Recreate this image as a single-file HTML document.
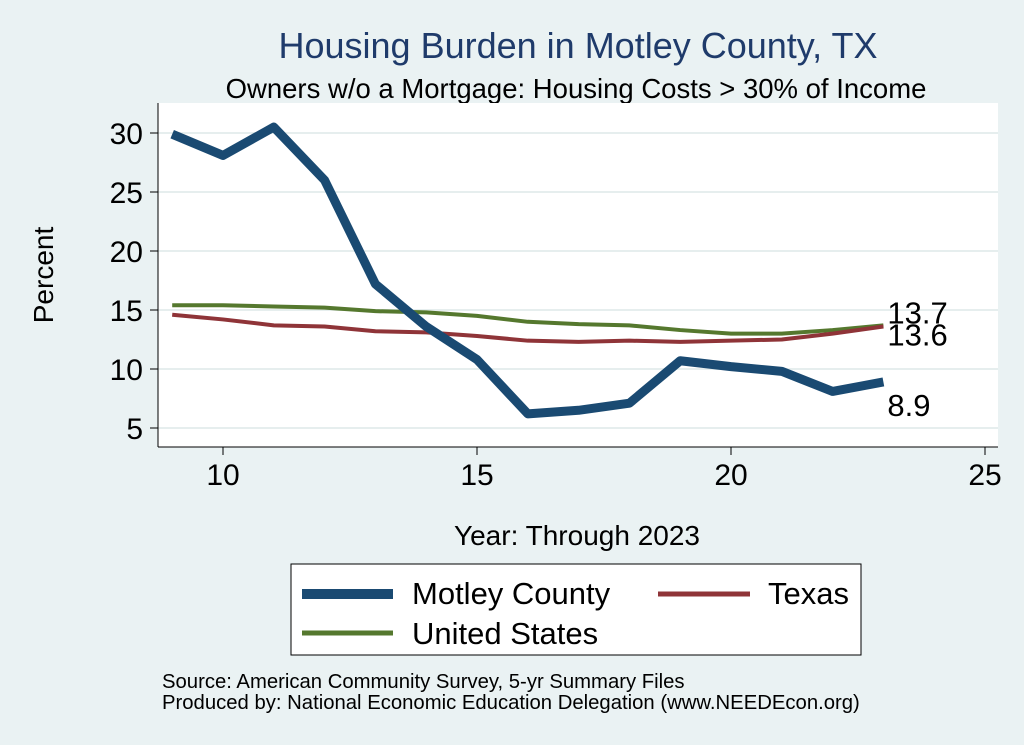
<!DOCTYPE html>
<html><head><meta charset="utf-8"><style>
body{margin:0;background:#eaf2f3;}
svg{display:block;font-family:"Liberation Sans",sans-serif;}
</style></head><body>
<svg id="c" width="1024" height="745">
<rect x="0" y="0" width="1024" height="745" fill="#eaf2f3"/>
<text x="578" y="58" text-anchor="middle" font-size="36" fill="#1f3b6b">Housing Burden in Motley County, TX</text>
<text x="576" y="98" text-anchor="middle" font-size="27.5" fill="#000">Owners w/o a Mortgage: Housing Costs &gt; 30% of Income</text>
<rect x="158" y="103" width="840" height="344" fill="#fff"/>
<g id="grid"></g><g id="axes"></g><g id="series"></g>
<text x="53" y="275" text-anchor="middle" font-size="28" transform="rotate(-90 53 275)">Percent</text>
<text x="577" y="545" text-anchor="middle" font-size="28">Year: Through 2023</text>
<g>
<rect x="291" y="564" width="570" height="91" fill="#fff" stroke="#000" stroke-width="1"/>
<line x1="302" y1="594" x2="393" y2="594" stroke="#1a4a72" stroke-width="10"/>
<text x="412" y="604" font-size="31">Motley County</text>
<line x1="658" y1="594" x2="750" y2="594" stroke="#8f3438" stroke-width="5"/>
<text x="768" y="604" font-size="31">Texas</text>
<line x1="302" y1="633" x2="393" y2="633" stroke="#55782e" stroke-width="5"/>
<text x="412" y="644" font-size="31">United States</text>
</g>
<text x="162" y="688" font-size="20.3">Source: American Community Survey, 5-yr Summary Files</text>
<text x="162" y="709" font-size="20.3">Produced by: National Economic Education Delegation (www.NEEDEcon.org)</text>
</svg>
<script>
const years=[9,10,11,12,13,14,15,16,17,18,19,20,21,22,23];
const motley=[29.9,28.1,30.5,26.0,17.2,13.6,10.8,6.2,6.5,7.1,10.7,10.2,9.8,8.1,8.9];
const texas=[14.6,14.2,13.7,13.6,13.2,13.1,12.8,12.4,12.3,12.4,12.3,12.4,12.5,13.0,13.6];
const us=[15.4,15.4,15.3,15.2,14.9,14.8,14.5,14.0,13.8,13.7,13.3,13.0,13.0,13.3,13.7];
const yTicks=[5,10,15,20,25,30];
const xTicks=[10,15,20,25];
const NS="http://www.w3.org/2000/svg";
const X=v=>223+(v-10)*50.8;
const Y=v=>428-(v-5)*11.8;
function mk(t,a,p){const e=document.createElementNS(NS,t);for(const k in a)e.setAttribute(k,a[k]);p.appendChild(e);return e;}
const g=document.getElementById('grid'),ax=document.getElementById('axes'),s=document.getElementById('series');
mk('line',{x1:158,y1:447,x2:998,y2:447,stroke:'#000','stroke-width':1},ax);
mk('line',{x1:158,y1:103,x2:158,y2:447,stroke:'#000','stroke-width':1},ax);
yTicks.forEach(v=>{
 const l=mk('line',{x1:158,x2:998,y1:Y(v),y2:Y(v),stroke:'#e6eeee','stroke-width':2},g);
 
 
 mk('line',{x1:150,x2:158,y1:Y(v),y2:Y(v),stroke:'#000'},ax);
 const t=mk('text',{x:143,y:Y(v)+11,'text-anchor':'end','font-size':30},ax);t.textContent=v;
 
 
});
xTicks.forEach(v=>{
 mk('line',{x1:X(v),x2:X(v),y1:447,y2:455,stroke:'#000'},ax);
 const t=mk('text',{x:X(v),y:485,'text-anchor':'middle','font-size':30},ax);t.textContent=v;
 
 
});
function line(d,c,w,n){
 const p=mk('polyline',{points:d.map((v,i)=>X(years[i])+','+Y(v)).join(' '),fill:'none',stroke:c,'stroke-width':w,'stroke-linejoin':'round'},s);
 
 
}
line(us,'#55782e',4,'line-us');
line(texas,'#8f3438',4,'line-texas');
line(motley,'#1a4a72',9,'line-motley');
const L=years.length-1;
[[us[L],-2,'label-us-last'],[texas[L],19,'label-texas-last'],[motley[L],34,'label-motley-last']].forEach(([v,dy,n])=>{
 const t=mk('text',{x:X(years[L])+4,y:Y(v)+dy,'font-size':31},s);t.textContent=v.toFixed(1);
 
 
});
</script>
</body></html>
